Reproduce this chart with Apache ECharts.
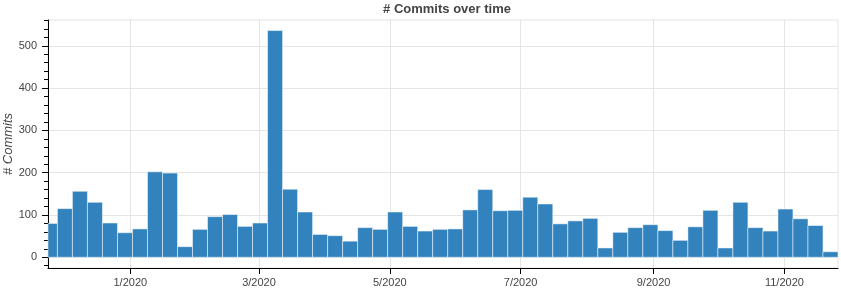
<!DOCTYPE html>
<html>
<head>
<meta charset="utf-8">
<script src="https://cdn.jsdelivr.net/npm/echarts@6/dist/echarts.min.js"></script>
<style>
html,body{margin:0;padding:0;background:#fff;}
#chart{width:841px;height:292px;}
</style>
</head>
<body>
<div id="chart"></div>
<script>
// Weekly bins: start date of each bin (UTC) and commit count
var weekStarts = [
  '2019-11-21','2019-11-28','2019-12-05','2019-12-12','2019-12-19','2019-12-26',
  '2020-01-02','2020-01-09','2020-01-16','2020-01-23','2020-01-30',
  '2020-02-06','2020-02-13','2020-02-20','2020-02-27',
  '2020-03-05','2020-03-12','2020-03-19','2020-03-26',
  '2020-04-02','2020-04-09','2020-04-16','2020-04-23','2020-04-30',
  '2020-05-07','2020-05-14','2020-05-21','2020-05-28',
  '2020-06-04','2020-06-11','2020-06-18','2020-06-25',
  '2020-07-02','2020-07-09','2020-07-16','2020-07-23','2020-07-30',
  '2020-08-06','2020-08-13','2020-08-20','2020-08-27',
  '2020-09-03','2020-09-10','2020-09-17','2020-09-24',
  '2020-10-01','2020-10-08','2020-10-15','2020-10-22','2020-10-29',
  '2020-11-05','2020-11-12','2020-11-19'
];
var commits = [
  80,115,156,130,81,58,
  67,202,199,25,66,
  96,101,73,81,
  536,161,107,54,
  51,38,70,66,107,
  73,62,66,67,
  112,160,110,111,
  142,126,79,86,92,
  22,59,70,77,
  63,40,72,111,
  22,130,70,62,114,
  91,75,13
];
var binDays = 7;
var xTickDates = ['2020-01-01','2020-03-01','2020-05-01','2020-07-01','2020-09-01','2020-11-01'];
var xRange = ['2019-11-23T14:38:00','2020-11-26T00:00:00'];
var yMajorTicks = [0,100,200,300,400,500];
var yMinorTicks = [-20,20,40,60,80,120,140,160,180,220,240,260,280,320,340,360,380,420,440,460,480,520,540,560];
var yRange = [-25.4, 561];

function utc(s){
  var m = s.match(/(\d+)-(\d+)-(\d+)(?:T(\d+):(\d+):(\d+))?/);
  return Date.UTC(+m[1], +m[2]-1, +m[3], +(m[4]||0), +(m[5]||0), +(m[6]||0));
}
var DAY = 86400000;
var data = weekStarts.map(function(d, i){
  var s = utc(d);
  return [s, s + binDays*DAY, commits[i]];
});
var xTicks = xTickDates.map(utc);

var fontFam = 'Arial, "Liberation Sans", Helvetica, sans-serif';
var chart = echarts.init(document.getElementById('chart'), null, {renderer:'canvas'});
chart.setOption({
  animation: false,
  backgroundColor: '#ffffff',
  title: {
    text: '# Commits over time',
    left: 442, textAlign: 'center', top: -2,
    textStyle: {fontFamily: fontFam, fontSize: 13, fontWeight: 'bold', color: '#444444'}
  },
  grid: {left: 48, right: 3, top: 20, bottom: 24, show: true, borderColor: '#e5e5e5', borderWidth: 1,
         containLabel: false, outerBoundsMode: 'none'},
  xAxis: {
    type: 'value',
    min: utc(xRange[0]), max: utc(xRange[1]),
    axisLine: {show: true, onZero: false, lineStyle: {color: '#000', width: 1}},
    axisTick: {show: true, length: 6, customValues: xTicks, lineStyle: {color: '#000'}},
    axisLabel: {
      customValues: xTicks, margin: 9, color: '#444444', fontSize: 11, fontFamily: fontFam,
      formatter: function(v){ var d = new Date(v); return (d.getUTCMonth()+1) + '/' + d.getUTCFullYear(); }
    },
    splitLine: {show: true, lineStyle: {color: '#e5e5e5', width: 1}}
  },
  yAxis: [{
    type: 'value',
    position: 'left',
    min: yRange[0], max: yRange[1],
    name: '# Commits', nameLocation: 'middle', nameGap: 33, nameMoveOverlap: false,
    nameTextStyle: {fontFamily: fontFam, fontSize: 13, fontStyle: 'italic', color: '#444444'},
    axisLine: {show: true, onZero: false, lineStyle: {color: '#000', width: 1}},
    axisTick: {show: true, length: 6, customValues: yMajorTicks, lineStyle: {color: '#000'}},
    axisLabel: {customValues: yMajorTicks, margin: 11, color: '#444444', fontSize: 11, fontFamily: fontFam},
    splitLine: {show: true, lineStyle: {color: '#e5e5e5', width: 1}}
  }, {
    type: 'value',
    position: 'left',
    min: yRange[0], max: yRange[1],
    axisLine: {show: false},
    axisTick: {show: true, length: 4, customValues: yMinorTicks, lineStyle: {color: '#000'}},
    axisLabel: {show: false},
    splitLine: {show: false}
  }],
  series: [{
    type: 'custom',
    xAxisIndex: 0, yAxisIndex: 0,
    encode: {x: [0, 1], y: 2},
    data: data,
    renderItem: function(params, api){
      var p0 = api.coord([api.value(0), api.value(2)]);
      var p1 = api.coord([api.value(1), 0]);
      var cs = params.coordSys;
      var rect = echarts.graphic.clipRectByRect(
        {x: p0[0], y: p0[1], width: p1[0]-p0[0], height: p1[1]-p0[1]},
        {x: cs.x, y: cs.y, width: cs.width, height: cs.height});
      if (!rect) return null;
      return {type: 'rect', shape: rect,
        style: {fill: '#3182bd', stroke: 'rgba(255,255,255,0.5)', lineWidth: 1}};
    }
  }]
});
</script>
</body>
</html>
